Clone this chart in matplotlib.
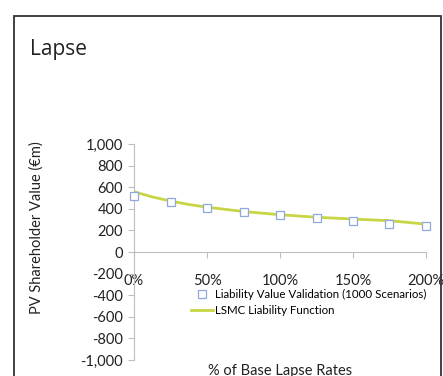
import numpy as np
import matplotlib.pyplot as plt
from matplotlib.patches import Rectangle

# validation points (1000 scenarios)
lapse_pts = [0, 25, 50, 75, 100, 125, 150, 175, 200]
value_pts = [522, 460, 412, 372, 343, 318, 290, 262, 238]

# fitted LSMC liability function
lapse_fit = [0, 12.5, 25, 37.5, 50, 75, 100, 125, 150, 175, 200]
value_fit = [558, 510, 472, 440, 415, 375, 345, 322, 305, 290, 258]

xticks = [0, 50, 100, 150, 200]
xtick_labels = ['0%', '50%', '100%', '150%', '200%']
yticks = [-1000, -800, -600, -400, -200, 0, 200, 400, 600, 800, 1000]

W, H = 443, 376
plt.rcParams['font.family'] = ['Lato', 'DejaVu Sans']
fig = plt.figure(figsize=(W / 100, H / 100), dpi=100)

# outer frame
fig.patches.append(Rectangle((14 / W, -0.1), (441 - 14) / W, 1.1 - 16 / H,
                             transform=fig.transFigure, fill=False,
                             edgecolor='#333333', linewidth=1.3))
fig.text(30 / W, 1 - 50 / H, 'Lapse', fontsize=15, va='center', ha='left',
         color='#222222', family=['Open Sans', 'DejaVu Sans'])

ax = fig.add_axes([134 / W, 1 - 360 / H, (426 - 134) / W, (360 - 144) / H])
ax.plot(lapse_fit, value_fit, color='#C8D545', linewidth=2, label='LSMC Liability Function', zorder=2)
ax.plot(lapse_pts, value_pts, linestyle='none', marker='s', markersize=5.5,
        markerfacecolor='white', markeredgecolor='#8EAADB', markeredgewidth=0.9,
        label='Liability Value Validation (1000 Scenarios)', zorder=3, clip_on=False)

ax.set_xlim(0, 200)
ax.set_ylim(-1000, 1000)
ax.set_yticks(yticks)
ax.set_yticklabels([f'{v:,}' for v in yticks])
ax.set_xticks(xticks)
ax.set_xticklabels(xtick_labels)

for s in ['top', 'right']:
    ax.spines[s].set_visible(False)
ax.spines['bottom'].set_position(('data', 0))
ax.spines['bottom'].set_color('#BFBFBF')
ax.spines['left'].set_color('#BFBFBF')
ax.tick_params(axis='y', colors='#BFBFBF', labelcolor='#222222', labelsize=10.5, length=4, direction='out', pad=4)
ax.tick_params(axis='x', colors='#BFBFBF', labelcolor='#222222', labelsize=10.5, length=4, direction='out', pad=12)

handles, labels = ax.get_legend_handles_labels()
leg = fig.legend(handles[::-1], labels[::-1], loc='upper left', bbox_to_anchor=(191 / W, 1 - 289 / H),
                 frameon=False, fontsize=8.3, handlelength=1.9, handletextpad=0.2,
                 labelspacing=0.45, borderpad=0, borderaxespad=0)

fig.text(37 / W, 1 - 228 / H, 'PV Shareholder Value (€m)', rotation=90,
         fontsize=10.5, ha='center', va='center', color='#222222')
fig.text(280 / W, 1 - 364 / H, '% of Base Lapse Rates', fontsize=10.5,
         ha='center', va='top', color='#222222')

fig.savefig('out.png', dpi=100)
